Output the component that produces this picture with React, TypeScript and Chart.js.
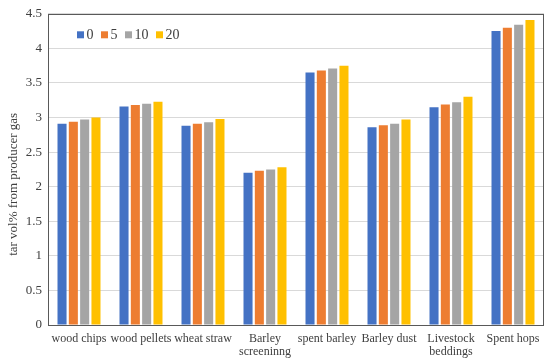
import React, { useEffect, useRef } from "react";
import { Chart, registerables } from "chart.js";

Chart.register(...registerables);

const categories: (string | string[])[] = [
  "wood chips",
  "wood pellets",
  "wheat straw",
  ["Barley", "screeninng"],
  "spent barley",
  "Barley dust",
  ["Livestock", "beddings"],
  "Spent hops",
];

const seriesNames = ["0", "5", "10", "20"];
const series0 = [2.91, 3.16, 2.88, 2.2, 3.65, 2.86, 3.15, 4.25];
const series5 = [2.94, 3.18, 2.91, 2.23, 3.68, 2.89, 3.19, 4.3];
const series10 = [2.97, 3.2, 2.93, 2.25, 3.71, 2.91, 3.22, 4.34];
const series20 = [3.0, 3.23, 2.98, 2.28, 3.75, 2.97, 3.3, 4.41];
const colors = ["#4472C4", "#ED7D31", "#A5A5A5", "#FFC000"];

const yTitle = "tar vol% from producer gas";
const FONT = "'Liberation Serif', 'Times New Roman', serif";
const TEXT = "#404040";

const insideLegend = {
  id: "insideLegend",
  afterDraw(chart: any) {
    const { ctx, chartArea } = chart;
    ctx.save();
    ctx.font = `14px ${FONT}`;
    ctx.textBaseline = "middle";
    ctx.textAlign = "left";
    let x = chartArea.left + 29;
    const y = chartArea.top + 21;
    chart.data.datasets.forEach((ds: any) => {
      ctx.fillStyle = ds.backgroundColor;
      ctx.fillRect(x, y - 3.5, 7, 7);
      x += 9.5;
      ctx.fillStyle = TEXT;
      ctx.fillText(ds.label, x, y + 0.5);
      x += ctx.measureText(ds.label).width + 7.5;
    });
    ctx.restore();
  },
};

const frameAndTitle = {
  id: "frameAndTitle",
  afterDraw(chart: any) {
    const { ctx, chartArea } = chart;
    ctx.save();
    ctx.strokeStyle = "#595959";
    ctx.lineWidth = 1;
    ctx.strokeRect(
      Math.round(chartArea.left) + 0.5,
      Math.round(chartArea.top) + 0.5,
      Math.round(chartArea.right - chartArea.left) - 1,
      Math.round(chartArea.bottom - chartArea.top)
    );
    ctx.translate(14, (chartArea.top + chartArea.bottom) / 2 + 15);
    ctx.rotate(-Math.PI / 2);
    ctx.font = `13px ${FONT}`;
    ctx.fillStyle = TEXT;
    ctx.textAlign = "center";
    ctx.textBaseline = "middle";
    ctx.fillText(yTitle, 0, 0);
    ctx.restore();
  },
};

export default function App() {
  const ref = useRef<HTMLCanvasElement | null>(null);
  useEffect(() => {
    document.body.style.margin = "0";
    const all = [series0, series5, series10, series20];
    const chart = new Chart(ref.current as HTMLCanvasElement, {
      type: "bar",
      data: {
        labels: categories,
        datasets: all.map((d, i) => ({
          label: seriesNames[i],
          data: d,
          backgroundColor: colors[i],
          barPercentage: 0.8,
          categoryPercentage: 0.73,
        })),
      },
      options: {
        animation: false,
        responsive: false,
        layout: { padding: { left: 0, right: 6, top: 11, bottom: 0 } },
        plugins: { legend: { display: false }, tooltip: { enabled: false } },
        scales: {
          x: {
            grid: { display: false, drawTicks: false },
            border: { display: false },
            ticks: {
              color: TEXT,
              font: { family: FONT, size: 12, lineHeight: 1.1 },
              padding: 7,
              maxRotation: 0,
              autoSkip: false,
            },
            afterFit: (s: any) => {
              s.height = 38;
            },
          },
          y: {
            min: 0,
            max: 4.5,
            grid: { color: "#D9D9D9", drawTicks: false },
            border: { display: false },
            ticks: {
              stepSize: 0.5,
              color: TEXT,
              font: { family: FONT, size: 13 },
              padding: 6,
              callback: (v: any) => String(Number(v)),
            },
            afterFit: (s: any) => {
              s.width = 48;
            },
          },
        },
      },
      plugins: [insideLegend, frameAndTitle],
    });
    return () => chart.destroy();
  }, []);
  return (
    <div style={{ width: 550, height: 363 }}>
      <canvas ref={ref} width={550} height={363} />
    </div>
  );
}
